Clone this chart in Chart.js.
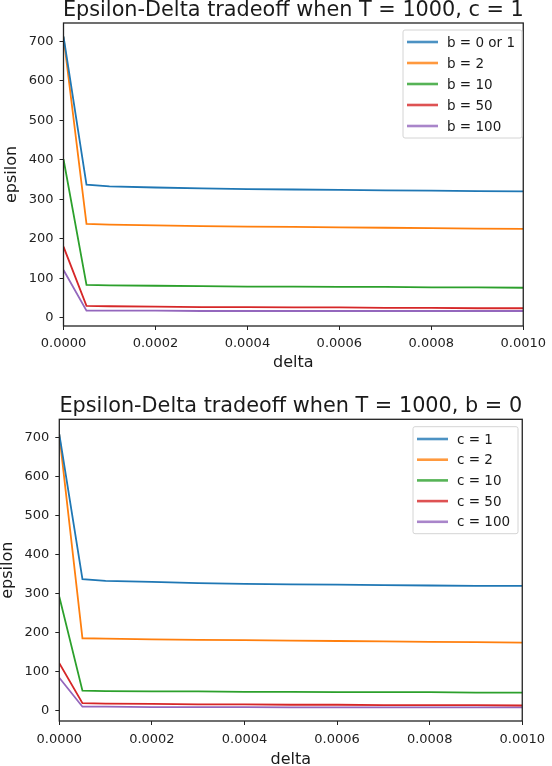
<!DOCTYPE html>
<html><head><meta charset="utf-8">
<script src="https://cdn.jsdelivr.net/npm/chart.js@4"></script>
<style>
html,body{margin:0;padding:0;background:#fff;}
canvas{display:block;}
</style></head>
<body>
<canvas id="c1" width="552" height="380" style="width:552px;height:380px"></canvas>
<canvas id="c2" width="552" height="386" style="width:552px;height:386px"></canvas>
<script>
const deltas = [0, 0.00005, 0.0001, 0.0002, 0.0003, 0.0004, 0.0005, 0.0006, 0.0007, 0.0008, 0.0009, 0.001];
const xTicks = [0, 0.0002, 0.0004, 0.0006, 0.0008, 0.001];
const yTicks = [0, 100, 200, 300, 400, 500, 600, 700];
const colors = ['#1f77b4', '#ff7f0e', '#2ca02c', '#d62728', '#9467bd'];

const title1 = 'Epsilon-Delta tradeoff when T = 1000, c = 1';
const labels1 = ['b = 0 or 1', 'b = 2', 'b = 10', 'b = 50', 'b = 100'];
const b01  = [713, 337, 333, 330, 328, 326, 325, 324, 323, 322, 321, 320];
const b2   = [712, 238, 236, 234, 232, 231, 230, 229, 228, 227, 226, 225];
const b10  = [402, 83, 82, 81, 80, 79, 79, 78, 78, 77, 77, 76];
const b50  = [180, 30, 29, 28, 27, 27, 26, 26, 25, 25, 24, 24];
const b100 = [121, 18, 18, 18, 17, 17, 17, 17, 17, 17, 17, 17];

const title2 = 'Epsilon-Delta tradeoff when T = 1000, b = 0';
const labels2 = ['c = 1', 'c = 2', 'c = 10', 'c = 50', 'c = 100'];
const c1   = [708, 337, 333, 330, 327, 325, 324, 323, 322, 321, 320, 320];
const c2   = [707, 186, 185, 183, 182, 181, 180, 179, 178, 177, 176, 175];
const c10  = [292, 52, 51, 50, 50, 49, 49, 48, 48, 48, 47, 47];
const c50  = [122, 20, 19, 18, 17, 17, 16, 16, 15, 15, 15, 14];
const c100 = [85, 11, 11, 10, 10, 10, 9, 9, 9, 9, 9, 9];

const FONT = "'DejaVu Sans', sans-serif";

function makeChart(id, title, labels, series, cfg) {
  const datasets = series.map((s, i) => ({
    label: labels[i],
    data: deltas.map((d, j) => ({x: d, y: s[j]})),
    borderColor: colors[i],
    backgroundColor: colors[i],
    borderWidth: 1.8,
    pointRadius: 0,
    tension: 0,
    fill: false
  }));
  const framePlugin = {
    id: 'frame_' + id,
    afterDraw(chart) {
      const ctx = chart.ctx, a = chart.chartArea;
      ctx.save();
      ctx.strokeStyle = '#222';
      ctx.lineWidth = 1.3;
      ctx.strokeRect(a.left, a.top, a.right - a.left, a.bottom - a.top);
      // title
      ctx.fillStyle = '#1a1a1a';
      ctx.font = '20.8px ' + FONT;
      ctx.textAlign = 'center';
      ctx.textBaseline = 'alphabetic';
      ctx.fillText(title, (a.left + a.right) / 2, cfg.titleY);
      // legend
      const L = cfg.legend;
      ctx.fillStyle = 'rgba(255,255,255,0.85)';
      ctx.strokeStyle = '#d4d4d4';
      ctx.lineWidth = 1;
      ctx.beginPath();
      ctx.roundRect(L.x, L.y, L.w, L.h, 2);
      ctx.fill();
      ctx.stroke();
      ctx.font = '13.5px ' + FONT;
      ctx.textAlign = 'left';
      ctx.textBaseline = 'middle';
      chart.data.datasets.forEach((ds, i) => {
        const yy = L.y + L.first + i * L.step;
        ctx.globalAlpha = 0.8;
        ctx.strokeStyle = ds.borderColor;
        ctx.lineWidth = 2.6;
        ctx.beginPath();
        ctx.moveTo(L.x + 4, yy);
        ctx.lineTo(L.x + 35, yy);
        ctx.stroke();
        ctx.globalAlpha = 1;
        ctx.fillStyle = '#1a1a1a';
        ctx.fillText(ds.label, L.x + 44, yy + 1);
      });
      ctx.restore();
    }
  };
  return new Chart(document.getElementById(id), {
    type: 'line',
    data: { datasets },
    options: {
      responsive: false,
      animation: false,
      devicePixelRatio: 1,
      layout: { padding: { top: cfg.top, right: cfg.right, left: cfg.left, bottom: cfg.bottom } },
      plugins: { legend: { display: false }, tooltip: { enabled: false } },
      scales: {
        x: {
          type: 'linear',
          min: 0, max: 0.001,
          afterBuildTicks(scale) { scale.ticks = xTicks.map(v => ({value: v})); },
          afterFit(scale) { scale.height = cfg.xh; },
          ticks: {
            callback: v => v.toFixed(4),
            color: '#222', font: { family: FONT, size: 13 }, padding: cfg.xpad, maxRotation: 0
          },
          grid: { drawOnChartArea: false, drawTicks: true, tickLength: 4, tickColor: '#222' },
          border: { display: false },
          title: { display: true, text: 'delta', color: '#1a1a1a', font: { family: FONT, size: 16, lineHeight: cfg.xlh }, padding: 0 }
        },
        y: {
          type: 'linear',
          min: cfg.ymin, max: cfg.ymax,
          afterBuildTicks(scale) { scale.ticks = yTicks.map(v => ({value: v})); },
          afterFit(scale) { scale.width = cfg.yw; },
          ticks: { color: '#222', font: { family: FONT, size: 13 }, padding: 6 },
          grid: { drawOnChartArea: false, drawTicks: true, tickLength: 4, tickColor: '#222' },
          border: { display: false },
          title: { display: true, text: 'epsilon', color: '#1a1a1a', font: { family: FONT, size: 16, lineHeight: 1 }, padding: 0 }
        }
      }
    },
    plugins: [framePlugin]
  });
}

makeChart('c1', title1, labels1, [b01, b2, b10, b50, b100], {
  top: 23, right: 23, left: 4, bottom: 9, xh: 45, yw: 59.5, ymin: -21, ymax: 747, xpad: 6, titleY: 16, xlh: 1,
  legend: { x: 403, y: 30, w: 119, h: 108, first: 12, step: 21 }
});
makeChart('c2', title2, labels2, [c1, c2, c10, c50, c100], {
  top: 39.3, right: 28, left: 0, bottom: 0, xh: 45, yw: 59.3, ymin: -25.6, ymax: 746, xpad: 7, titleY: 32, xlh: 0.75,
  legend: { x: 413, y: 46.7, w: 105, h: 107, first: 12.3, step: 20.7 }
});
</script>
</body></html>
